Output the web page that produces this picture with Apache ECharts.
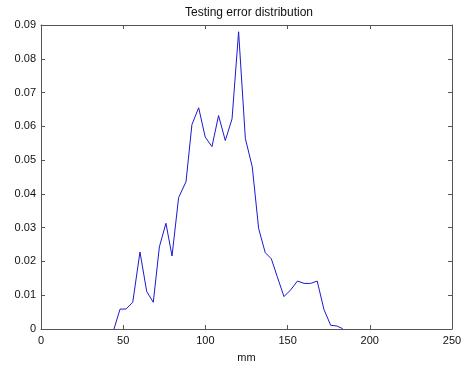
<!DOCTYPE html>
<html><head><meta charset="utf-8">
<script src="https://cdn.jsdelivr.net/npm/echarts@6/dist/echarts.min.js"></script>
<style>html,body{margin:0;padding:0;background:#fff}#c{width:465px;height:368px}</style>
</head><body><div id="c"></div>
<script>
const xValues = [44.4, 48.1, 51.7, 55.8, 60.2, 64.3, 68.3, 72.0, 76.0, 79.7, 83.7, 88.2, 91.8, 95.9, 99.9, 104.0, 108.0, 112.1, 116.2, 120.2, 124.3, 128.5, 132.4, 136.4, 140.1, 143.7, 147.8, 151.9, 156.0, 160.0, 164.0, 168.0, 172.1, 176.2, 179.9, 183.5];
const yValues = [0, 0.0059, 0.0059, 0.0079, 0.0228, 0.0111, 0.0079, 0.0243, 0.0313, 0.0216, 0.0389, 0.0436, 0.0605, 0.0655, 0.0568, 0.0540, 0.0632, 0.0558, 0.0622, 0.0880, 0.0564, 0.0480, 0.0297, 0.0226, 0.0208, 0.0155, 0.0096, 0.0116, 0.0142, 0.0135, 0.0135, 0.0142, 0.0058, 0.0011, 0.0009, 0.0001];
const xTicks = [0, 50, 100, 150, 200, 250];
const yTicks = [0, 0.01, 0.02, 0.03, 0.04, 0.05, 0.06, 0.07, 0.08, 0.09];
const titleText = 'Testing error distribution';
const xLabel = 'mm';

const font = 'Liberation Sans, Arial, sans-serif';
const axisCol = '#555';
const chart = echarts.init(document.getElementById('c'), null, {renderer: 'canvas'});
const baseX = {
  type: 'value', min: xTicks[0], max: xTicks[xTicks.length - 1], interval: 50,
  axisLine: {show: true, onZero: false, lineStyle: {color: axisCol, width: 1}},
  axisTick: {show: true, inside: true, length: 4, lineStyle: {color: axisCol}},
  splitLine: {show: false}
};
const baseY = {
  type: 'value', min: yTicks[0], max: yTicks[yTicks.length - 1], interval: 0.01,
  axisLine: {show: true, onZero: false, lineStyle: {color: axisCol, width: 1}},
  axisTick: {show: true, inside: true, length: 4, lineStyle: {color: axisCol}},
  splitLine: {show: false}
};
chart.setOption({
  animation: false,
  backgroundColor: '#fff',
  title: {text: titleText, left: 244, top: 2, textAlign: 'center',
    textStyle: {fontFamily: font, fontSize: 12, fontWeight: 'normal', color: '#111'}},
  grid: {left: 41, right: 13, top: 25, bottom: 35},
  xAxis: [
    Object.assign({}, baseX, {position: 'bottom', name: xLabel, nameLocation: 'middle', nameGap: 23,
      nameTextStyle: {fontFamily: font, fontSize: 11, color: '#111'},
      axisLabel: {fontFamily: font, fontSize: 11, color: '#111', margin: 6}}),
    Object.assign({}, baseX, {position: 'top', axisLabel: {show: false}})
  ],
  yAxis: [
    Object.assign({}, baseY, {position: 'left',
      axisLabel: {fontFamily: font, fontSize: 11, color: '#111', margin: 5,
        formatter: v => v === 0 ? '0' : v.toFixed(2)}}),
    Object.assign({}, baseY, {position: 'right', axisLabel: {show: false}})
  ],
  series: [{
    type: 'line', xAxisIndex: 0, yAxisIndex: 0,
    data: xValues.map((x, i) => [x, yValues[i]]),
    showSymbol: false, symbol: 'none',
    lineStyle: {color: '#1a1ad0', width: 1}
  }]
});
</script></body></html>
